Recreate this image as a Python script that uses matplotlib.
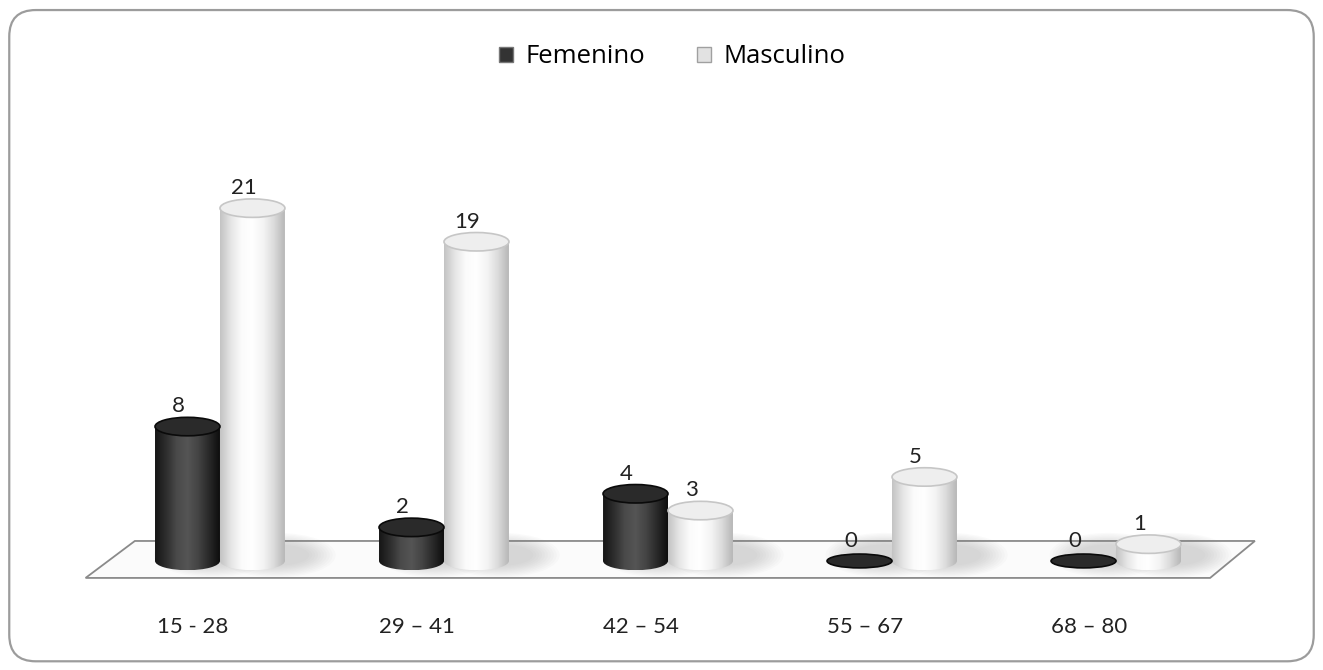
import matplotlib.pyplot as plt
import numpy as np
from matplotlib.patches import Rectangle, Ellipse, Polygon, FancyBboxPatch, PathPatch, Patch
from matplotlib.path import Path
from matplotlib.colors import LinearSegmentedColormap

# Datos: personas por rango de edad y sexo
grupos = ['15 - 28', '29 – 41', '42 – 54', '55 – 67', '68 – 80']
femenino = [8, 2, 4, 0, 0]
masculino = [21, 19, 3, 5, 1]
series = ['Femenino', 'Masculino']

ancho = 0.29      # ancho de cada cilindro (unidades de categoria)
alto_tapa = 1.10  # alto de la elipse de la tapa (unidades de valor)

cm_oscuro = LinearSegmentedColormap.from_list(
    'oscuro', ['#161616', '#2e2e2e', '#4a4a4a', '#555555', '#444444', '#2a2a2a', '#0e0e0e'])
cm_claro = LinearSegmentedColormap.from_list(
    'claro', ['#c4c4c4', '#e6e6e6', '#fbfbfb', '#ffffff', '#f4f4f4', '#dcdcdc', '#b8b8b8'])

fig = plt.figure(figsize=(13.23, 6.70), dpi=100)
ax = fig.add_axes([0, 0, 1, 1])

# piso del grafico
piso = Polygon([(-0.60, -1.01), (4.42, -1.01), (4.62, 1.19), (-0.38, 1.19)],
               closed=True, facecolor='#fbfbfb', edgecolor='#8a8a8a', lw=1.3, zorder=1)
ax.add_patch(piso)


def cilindro(xc, valor, cmap, tapa, borde):
    # sombra difusa sobre el piso
    for k in range(10):
        f = 1 - k / 10
        ax.add_patch(Ellipse((xc + 0.11, 0.35), ancho * (0.9 + 0.9 * f), alto_tapa * (1.0 + 1.4 * f),
                             facecolor='#8c8c8c', edgecolor='none', alpha=0.035, zorder=2))
    x0 = xc - ancho / 2
    if valor > 0:
        rect = Rectangle((x0, 0), ancho, valor)
        base = Ellipse((xc, 0), ancho, alto_tapa)
        camino = Path.make_compound_path(
            rect.get_path().transformed(rect.get_patch_transform()),
            base.get_path().transformed(base.get_patch_transform()))
        clip = PathPatch(camino, transform=ax.transData, facecolor='none', edgecolor='none')
        ax.add_patch(clip)
        grad = np.linspace(0, 1, 64).reshape(1, -1)
        img = ax.imshow(grad, cmap=cmap, extent=[x0, x0 + ancho, -alto_tapa / 2, valor],
                        aspect='auto', interpolation='bicubic', zorder=3)
        img.set_clip_path(clip)
        alto = alto_tapa
    else:
        alto = alto_tapa * 0.75
    ax.add_patch(Ellipse((xc, valor), ancho, alto, facecolor=tapa,
                         edgecolor=borde, lw=1.2, zorder=4))


fuente = {'family': 'Lato', 'size': 16, 'color': '#222222'}
for i in range(len(grupos)):
    cilindro(i - ancho / 2, femenino[i], cm_oscuro, '#2a2a2a', '#0a0a0a')
    cilindro(i + ancho / 2, masculino[i], cm_claro, '#eeeeee', '#c6c6c6')
    ax.text(i - ancho / 2 - 0.04, femenino[i] + 1.2, str(femenino[i]),
            ha='center', va='center', zorder=5, **fuente)
    ax.text(i + ancho / 2 - 0.04, masculino[i] + 1.2, str(masculino[i]),
            ha='center', va='center', zorder=5, **fuente)
    ax.text(i - 0.12, -3.93, grupos[i], ha='center', va='center', **fuente)

ax.set_xlim(-0.982, 4.924)
ax.set_ylim(-6.49, 33.39)
ax.axis('off')

manejadores = [Patch(facecolor='#333333', edgecolor='#777777', label=series[0]),
               Patch(facecolor='#e2e2e2', edgecolor='#a0a0a0', label=series[1])]
fig.legend(handles=manejadores, loc='center', bbox_to_anchor=(0.508, 0.915), ncol=2,
           frameon=False, prop={'family': 'Open Sans', 'size': 18.5},
           handlelength=0.55, handleheight=0.55, handletextpad=0.5, columnspacing=2.0)

# marco redondeado exterior
marco = FancyBboxPatch((0.007, 0.013), 0.986, 0.972, transform=fig.transFigure,
                       boxstyle='round,pad=0,rounding_size=0.02', mutation_aspect=1323 / 670,
                       fill=False, edgecolor='#9c9c9c', lw=1.6)
fig.patches.append(marco)

fig.savefig('out.png', dpi=100, facecolor='white')
